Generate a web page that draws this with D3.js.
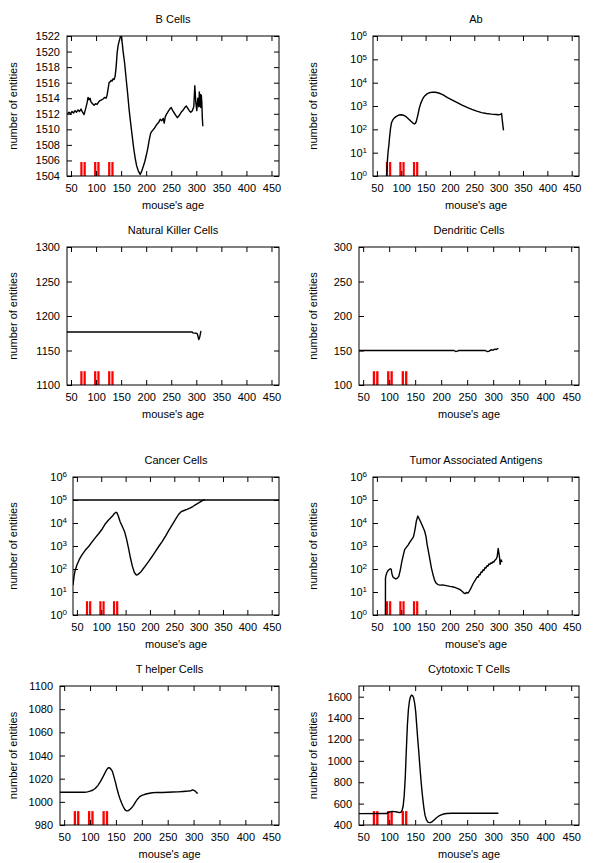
<!DOCTYPE html>
<html><head><meta charset="utf-8">
<script src="https://cdn.jsdelivr.net/npm/d3@7"></script>
<style>
body{margin:0;background:#fff}
text{font-family:"Liberation Sans",Arial,Helvetica,sans-serif;fill:#000}
</style>
</head><body>
<svg id="chart" width="600" height="863"></svg>
<script>
// ---------- data ----------
const ageDomain = [42, 465];
const ageTicks = [50, 100, 150, 200, 250, 300, 350, 400, 450];
const vaccinePeriods = [[68.5,73],[75,79.5],[96,100.5],[102.5,107],[124,128.5],[130.5,135]];

const titles = ["B Cells","Ab","Natural Killer Cells","Dendritic Cells","Cancer Cells","Tumor Associated Antigens","T helper Cells","Cytotoxic T Cells"];

const bCellsTicks = [1504,1506,1508,1510,1512,1514,1516,1518,1520,1522];
const nkTicks = [1100,1150,1200,1250,1300];
const dcTicks = [100,150,200,250,300];
const logTicks = [1,10,100,1000,10000,100000,1000000];
const thTicks = [980,1000,1020,1040,1060,1080,1100];
const ctlTicks = [400,600,800,1000,1200,1400,1600];

const bCells = [[43,1512.0],[46,1512.2],[49,1512.0],[52,1512.3],[55,1512.1],[58,1512.4],[61,1512.2],[64,1512.5],[67,1512.3],[70,1512.6],[73,1512.2],[76,1511.9],[79,1512.6],[82,1513.4],[84,1514.1],[86,1513.8],[88,1514.0],[90,1513.5],[93,1513.3],[96,1513.1],[99,1513.3],[102,1513.2],[105,1513.5],[108,1513.7],[111,1513.8],[114,1513.9],[117,1514.1],[120,1514.0],[122,1514.4],[124,1515.2],[126,1516.0],[128,1516.1],[130,1516.3],[132,1516.2],[134,1516.5],[136,1516.4],[138,1516.8],[140,1518.0],[142,1519.8],[144,1520.8],[146,1521.3],[148,1521.8],[150,1522.3],[152,1521.2],[154,1520.0],[157,1518.5],[160,1516.5],[163,1514.6],[166,1512.5],[169,1510.8],[172,1509.2],[175,1507.6],[178,1506.3],[181,1505.3],[184,1504.7],[188,1504.2],[191,1504.6],[194,1505.2],[197,1505.8],[200,1506.6],[203,1507.5],[206,1508.6],[209,1509.5],[212,1509.8],[216,1510.1],[219,1510.4],[222,1510.7],[225,1510.9],[228,1511.3],[231,1511.1],[234,1511.4],[236,1510.8],[238,1511.6],[241,1512.0],[244,1512.3],[247,1512.6],[250,1512.8],[253,1512.4],[256,1512.1],[259,1511.8],[262,1511.5],[265,1511.7],[268,1512.0],[271,1512.3],[274,1512.5],[277,1512.8],[280,1513.0],[283,1512.7],[286,1512.4],[289,1512.2],[292,1512.4],[295,1512.9],[297,1515.6],[299,1513.5],[301,1512.4],[303,1514.0],[305,1512.9],[306,1514.8],[307,1513.0],[308,1514.5],[309,1512.8],[310,1514.4],[311,1513.5],[312,1511.5],[313,1510.4]];

const antibodies = [[70,1],[71,3],[72,6],[73,11],[74.5,20],[76,45],[78,110],[80,190],[83,260],[86,310],[90,360],[95,410],[100,420],[105,400],[110,350],[115,280],[120,220],[124,185],[127,170],[129,180],[131,220],[134,400],[137,800],[140,1300],[144,2000],[148,2700],[153,3300],[158,3700],[164,3950],[170,3900],[177,3600],[185,3100],[195,2300],[205,1800],[215,1400],[225,1100],[235,880],[245,720],[255,600],[265,520],[275,480],[285,450],[295,430],[300,420],[304,440],[306,480],[307,300],[308,200],[309,130],[310,90]];

const nkCells = [[42,1176.8],[292,1176.8],[293,1175.5],[300,1175],[302,1174],[305,1166],[307,1170],[309,1177.5],[310,1178]];

const dcCells = [[42,150],[225,150],[228,148.5],[231,149],[234,150],[285,150],[288,148.5],[292,149],[296,151],[300,150.5],[303,152],[306,151.5],[310,153]];

const cancerCells = [[42,20],[44,45],[46,80],[50,150],[55,260],[60,400],[67,650],[75,1000],[81,1500],[88,2300],[95,3500],[102,5500],[108,9000],[115,13500],[122,19000],[127,26000],[130,29000],[132,28500],[135,20000],[139,11000],[144,6500],[148,4200],[152,2000],[156,800],[160,300],[164,130],[168,70],[172,55],[175,57],[180,70],[185,95],[191,140],[197,210],[204,340],[211,570],[218,950],[225,1550],[232,2700],[239,4900],[246,8500],[253,15000],[259,24000],[264,31000],[270,35000],[276,39000],[282,44000],[288,52000],[294,63000],[300,75000],[306,90000],[310,100000],[313,100000]];
const cancerThreshold = [[42,100000],[465,100000]];

const tumorAntigens = [[67.5,1],[67.6,40],[68.5,50],[70,65],[72,80],[74,90],[76,98],[78,102],[79.5,95],[81,60],[83,45],[86,40],[89,37],[92,40],[95,48],[98,90],[101,200],[104,380],[107,700],[110,850],[114,1100],[118,1500],[122,2000],[125,2500],[127,3800],[129,6500],[131,12000],[134,20000],[137,15000],[140,11000],[144,7000],[148,4500],[151,2500],[153,1200],[156,550],[159,250],[162,110],[165,60],[168,35],[171,25],[175,21],[180,20],[185,20.5],[190,19.5],[195,18.5],[200,17.5],[205,17],[210,16],[215,14.5],[220,13],[225,10.8],[228,9.2],[231,8.5],[234,9.5],[237,9],[240,11],[244,16],[248,24],[252,33],[256,46],[258,44],[260,58],[262,56],[264,75],[266,72],[268,92],[270,88],[272,115],[274,110],[276,140],[278,132],[280,165],[282,158],[284,185],[286,178],[288,205],[290,198],[292,235],[295,270],[297,340],[299,780],[301,420],[302,300],[303,160],[305,250],[307,200]];

const tHelper = [[42,1008.3],[90,1008.3],[95,1008.6],[100,1009.2],[105,1010],[110,1011.5],[115,1014],[120,1017.5],[125,1021.5],[130,1026],[134,1029],[137,1029.5],[140,1028.5],[143,1026.5],[146,1022],[149,1017],[152,1011.5],[155,1006.5],[158,1002.5],[161,999],[164,996],[167,993.5],[170,992.3],[173,992.2],[176,993],[180,994.6],[184,997],[188,1000],[192,1002.5],[196,1004.5],[200,1005.5],[205,1006.3],[210,1007],[220,1007.8],[230,1008.2],[240,1008],[250,1008.3],[260,1008.5],[270,1008.6],[280,1008.9],[290,1009.3],[295,1009.6],[298,1010.3],[301,1009.8],[304,1009],[306,1007.8],[308,1007.2]];

const cytotoxicT = [[42,506],[95,507],[98,515],[102,524],[106,526],[110,525],[115,522],[120,516],[123,520],[125,540],[127,580],[129,680],[131,850],[133,1100],[135,1330],[137,1480],[139,1560],[141,1600],[143,1615],[145,1610],[147,1590],[149,1540],[151,1460],[153,1330],[155,1200],[157,1080],[159,950],[161,830],[163,720],[165,630],[167,550],[169,490],[172,445],[175,425],[179,422],[183,432],[187,450],[191,468],[195,482],[200,495],[205,503],[210,508],[220,510],[240,510],[270,510],[310,510]];

// ---------- layout ----------
const panels = [
  {title:titles[0], series:[bCells], log:false, yDomain:[1504,1522], yTicks:bCellsTicks, f:{l:67,r:279,t:36,b:176}},
  {title:titles[1], series:[antibodies], log:true, yDomain:[1,1e6], yTicks:logTicks, f:{l:373,r:579,t:36,b:176}},
  {title:titles[2], series:[nkCells], log:false, yDomain:[1100,1300], yTicks:nkTicks, f:{l:67,r:279,t:247,b:385}},
  {title:titles[3], series:[dcCells], log:false, yDomain:[100,300], yTicks:dcTicks, f:{l:359,r:579,t:247,b:385}},
  {title:titles[4], series:[cancerThreshold, cancerCells], log:true, yDomain:[1,1e6], yTicks:logTicks, f:{l:73,r:279,t:477,b:615}},
  {title:titles[5], series:[tumorAntigens], log:true, yDomain:[1,1e6], yTicks:logTicks, f:{l:373,r:579,t:477,b:615}},
  {title:titles[6], series:[tHelper], log:false, yDomain:[980,1100], yTicks:thTicks, f:{l:60,r:279,t:686,b:825}},
  {title:titles[7], series:[cytotoxicT], log:false, yDomain:[400,1700], yTicks:ctlTicks, f:{l:359,r:579,t:686,b:825}}
];

const svg = d3.select("#chart");
const FS = 11, TICK = 5;

panels.forEach((p, i) => {
  const f = p.f;
  const x = d3.scaleLinear().domain(ageDomain).range([f.l, f.r]);
  const y = (p.log ? d3.scaleLog() : d3.scaleLinear()).domain(p.yDomain).range([f.b, f.t]);
  const g = svg.append("g");

  g.append("clipPath").attr("id", "clip" + i)
    .append("rect").attr("x", f.l).attr("y", f.t).attr("width", f.r - f.l).attr("height", f.b - f.t);

  const plot = g.append("g").attr("clip-path", `url(#clip${i})`);

  // vaccination bars (10% of graph height)
  const barTop = f.b - 0.1 * (f.b - f.t);
  plot.selectAll("rect.vac").data(vaccinePeriods).join("rect")
    .attr("class", "vac")
    .attr("x", d => x(d[0])).attr("width", d => x(d[1]) - x(d[0]))
    .attr("y", barTop).attr("height", f.b - barTop)
    .attr("fill", "#ff0000");

  const line = d3.line().x(d => x(d[0])).y(d => y(d[1]));
  p.series.forEach(s => {
    plot.append("path").datum(s).attr("d", line)
      .attr("fill", "none").attr("stroke", "#000").attr("stroke-width", 1.4)
      .attr("stroke-linejoin", "round");
  });

  // axes with inward ticks
  const fmt = p.log ? (() => "") : d3.format("d");
  g.append("g").attr("transform", `translate(0,${f.b})`)
    .call(d3.axisBottom(x).tickValues(ageTicks).tickSize(-TICK).tickPadding(8).tickFormat(d3.format("d")));
  g.append("g").attr("transform", `translate(0,${f.t})`)
    .call(d3.axisTop(x).tickValues(ageTicks).tickSize(-TICK).tickFormat(""));
  const ay = g.append("g").attr("transform", `translate(${f.l},0)`)
    .call(d3.axisLeft(y).tickValues(p.yTicks).tickSize(-TICK).tickPadding(p.log ? 12 : 7).tickFormat(fmt));
  g.append("g").attr("transform", `translate(${f.r},0)`)
    .call(d3.axisRight(y).tickValues(p.yTicks).tickSize(-TICK).tickFormat(""));

  g.selectAll(".domain").remove();
  g.selectAll(".tick line").attr("stroke", "#000").attr("stroke-width", 1);
  g.selectAll(".tick text").attr("font-size", FS).attr("font-family", "Liberation Sans, Arial, sans-serif").attr("fill", "#000");

  if (p.log) {
    ay.selectAll(".tick text").each(function(d) {
      const t = d3.select(this);
      t.text(null).attr("text-anchor", "end").attr("x", -6);
      t.append("tspan").text("10");
      t.append("tspan").attr("font-size", 8).attr("dy", "-0.45em").text(Math.round(Math.log10(d)));
    });
  }

  // frame
  g.append("rect").attr("x", f.l).attr("y", f.t).attr("width", f.r - f.l).attr("height", f.b - f.t)
    .attr("fill", "none").attr("stroke", "#000").attr("stroke-width", 1);

  // titles and labels
  const cx = (f.l + f.r) / 2;
  g.append("text").attr("x", cx).attr("y", f.t - 13).attr("text-anchor", "middle")
    .attr("font-size", FS).text(p.title);
  g.append("text").attr("x", cx).attr("y", f.b + 33).attr("text-anchor", "middle")
    .attr("font-size", FS).text("mouse's age");
  const lx = f.l < 300 ? 13 : 313;
  g.append("text").attr("transform", `translate(${lx},${(f.t + f.b) / 2}) rotate(-90)`)
    .attr("text-anchor", "middle").attr("dy", "0.35em").attr("font-size", FS).text("number of entities");
});
</script>
</body></html>
